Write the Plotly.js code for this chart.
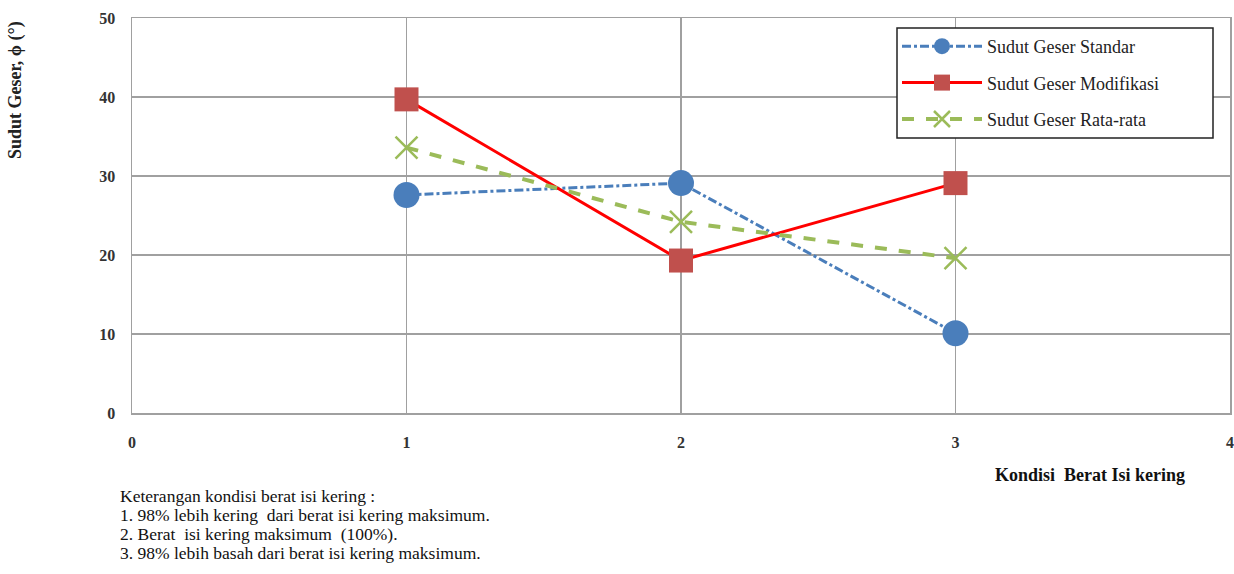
<!DOCTYPE html>
<html>
<head>
<meta charset="utf-8">
<script src="https://cdn.plot.ly/plotly-3.0.1.min.js"></script>
<style>html,body{margin:0;padding:0;background:#fff}#chart{width:1234px;height:574px}</style>
</head>
<body>
<div id="chart"></div>
<script>
const conditions = [1, 2, 3];
const standar = [27.6, 29.1, 10.1];
const modifikasi = [39.7, 19.3, 29.1];
const rataRata = [33.6, 24.2, 19.6];
const seriesNames = ["Sudut Geser Standar", "Sudut Geser Modifikasi", "Sudut Geser Rata-rata"];
const xTicks = [0, 1, 2, 3, 4];
const yTicks = [0, 10, 20, 30, 40, 50];
const notes = [
  "Keterangan kondisi berat isi kering :",
  "1. 98% lebih kering  dari berat isi kering maksimum.",
  "2. Berat  isi kering maksimum  (100%).",
  "3. 98% lebih basah dari berat isi kering maksimum."
];

const serif = "'Liberation Serif', 'Times New Roman', serif";
const px = v => (v - 132) / 1098;
const py = v => (413 - v) / 395;

const traces = [
  {x: conditions, y: standar, name: seriesNames[0], mode: "lines+markers", legendgroup: "a",
   line: {color: "#4A7EBB", width: 3, dash: "dashdot"},
   marker: {symbol: "circle", size: 26, color: "#4A7EBB"}},
  {x: conditions, y: modifikasi, name: seriesNames[1], mode: "lines+markers", legendgroup: "b",
   line: {color: "#FF0000", width: 3},
   marker: {symbol: "square", size: 24, color: "#C0504D"}},
  {x: conditions, y: rataRata, name: seriesNames[2], mode: "lines+markers", legendgroup: "c",
   line: {color: "#9BBB59", width: 4, dash: "dash"},
   marker: {symbol: "x-thin-open", size: 22, color: "#9BBB59", line: {width: 2.5, color: "#9BBB59"}}}
];

const annotations = [
  {text: "Sudut Geser, ϕ (°)", textangle: -90, xref: "paper", yref: "paper",
   x: px(16), y: py(90), showarrow: false, xanchor: "center", yanchor: "middle",
   font: {family: serif, size: 18, color: "#222", weight: "bold"}},
  {text: "Kondisi  Berat Isi kering", xref: "paper", yref: "paper",
   x: px(993), y: py(475), showarrow: false, xanchor: "left", yanchor: "middle",
   font: {family: serif, size: 18, color: "#111", weight: "bold"}}
];
notes.forEach((t, i) => {
  annotations.push({text: t, xref: "paper", yref: "paper",
    x: px(118), y: py(496 + i * 19), showarrow: false,
    xanchor: "left", yanchor: "middle", font: {family: serif, size: 17.5, color: "#111"}});
});

const layout = {
  width: 1234, height: 574,
  margin: {l: 132, r: 4, t: 18, b: 161},
  paper_bgcolor: "#fff", plot_bgcolor: "#fff",
  showlegend: true,
  legend: {x: px(897), y: py(28), xanchor: "left", yanchor: "top",
    bordercolor: "rgba(0,0,0,0)", borderwidth: 0, bgcolor: "rgba(0,0,0,0)", tracegroupgap: 10, itemwidth: 80,
    font: {family: serif, size: 18, color: "#222"}},
  shapes: [{type: "rect", xref: "paper", yref: "paper", layer: "above",
    x0: px(897), x1: px(1213), y0: py(138), y1: py(28),
    fillcolor: "#fff", line: {color: "#222", width: 1.5}}],
  xaxis: {range: [0, 4], tickvals: xTicks, ticktext: xTicks.map(String), showgrid: true,
    gridcolor: "#A0A0A0", gridwidth: 1.5, zeroline: false, showline: true, linecolor: "#A0A0A0", linewidth: 1.5,
    mirror: true, ticks: "", ticklabelstandoff: 14, ticklabeloverflow: "allow",
    tickfont: {family: serif, size: 16, color: "#333", weight: "bold"}},
  yaxis: {range: [0, 50], tickvals: yTicks, ticktext: yTicks.map(String), showgrid: true,
    gridcolor: "#A0A0A0", gridwidth: 1.5, zeroline: false, showline: true, linecolor: "#A0A0A0", linewidth: 1.5,
    mirror: true, ticks: "", ticklabelstandoff: 12,
    tickfont: {family: serif, size: 16, color: "#333", weight: "bold"}},
  annotations: annotations
};

Plotly.newPlot("chart", traces, layout, {staticPlot: true});
</script>
</body>
</html>
